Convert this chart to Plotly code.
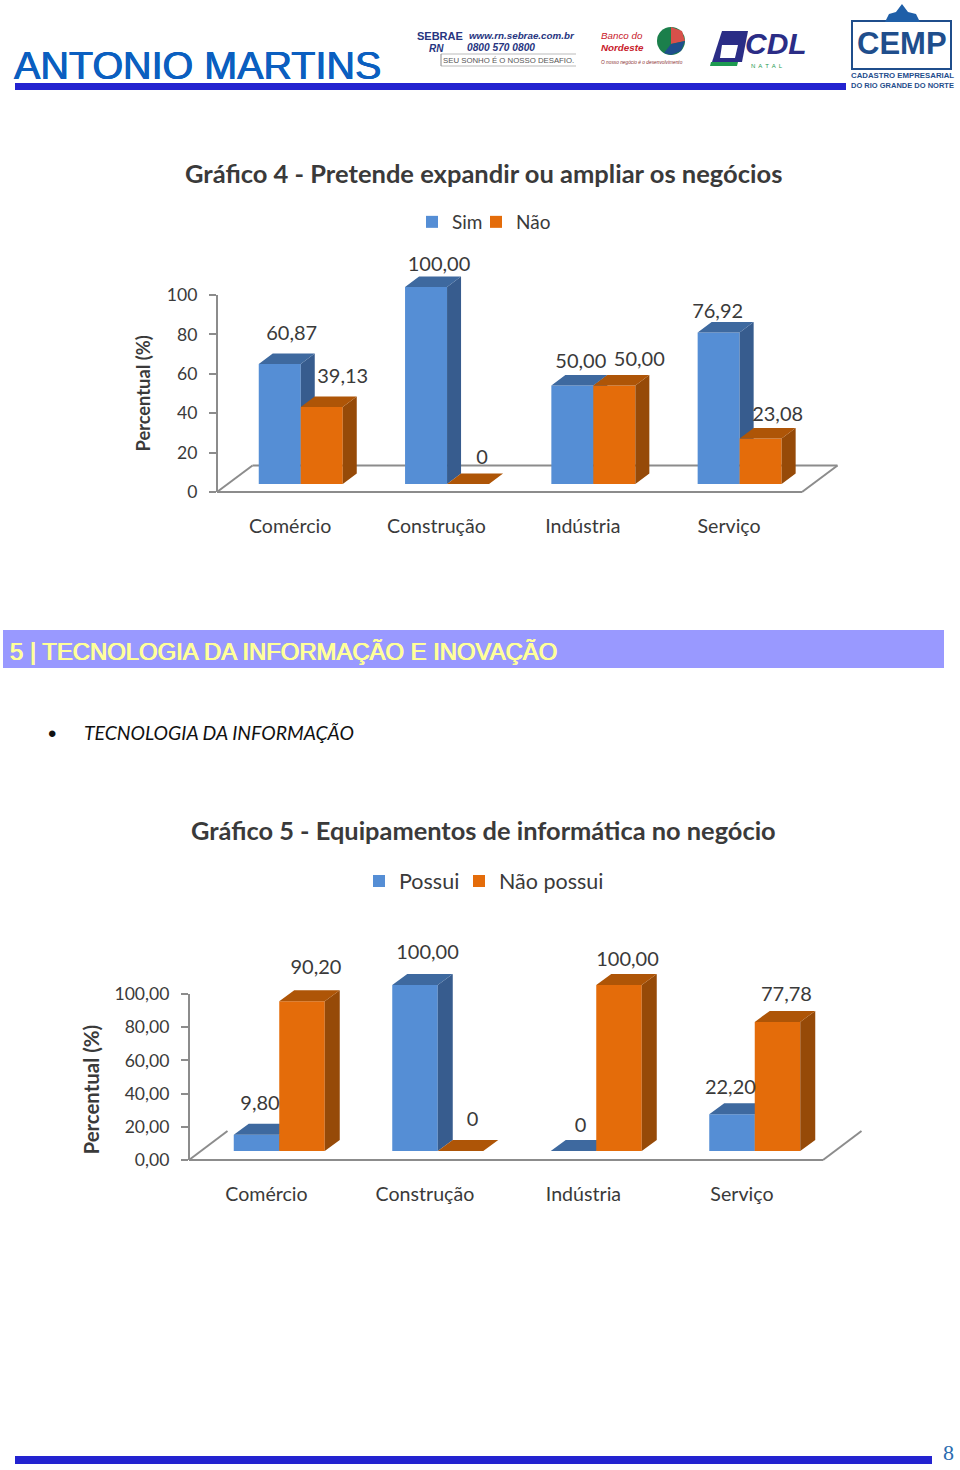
import plotly.graph_objects as go

W, H = 960, 1470

categories = ["Comércio", "Construção", "Indústria", "Serviço"]
sim = [60.87, 100.00, 50.00, 76.92]
nao = [39.13, 0, 50.00, 23.08]
possui = [9.80, 100.00, 0, 22.20]
nao_possui = [90.20, 0, 100.00, 77.78]
ticks_4 = [0, 20, 40, 60, 80, 100]
ticks_5 = [0, 20, 40, 60, 80, 100]
ticklabels_4 = ["0", "20", "40", "60", "80", "100"]
ticklabels_5 = ["0,00", "20,00", "40,00", "60,00", "80,00", "100,00"]

BLUE = ("#558ED5", "#375C8E", "#3E699F")
ORANGE = ("#E46C0A", "#964A08", "#AE5507")
GRAY = "#8C8C8C"
TXT = "#3A3A3A"
FONT = "Lato"
NAVY = "#2323D0"


def px(x):
    return x / W


def py(y):
    return 1 - y / H


def fmt(v):
    return f"{v:.2f}".replace(".", ",") if v else "0"


charts = [
    dict(ax=("", "2"), L=217, R=860, B=492, T=240, step=146.3, ypx=1.97, lift=8,
         shift=10.6, bw=42, dx=14, dy=10.5, sx=35.5, sy=26.5, fr=802, tick_shift=0,
         series=[("Sim", sim, BLUE), ("Não", nao, ORANGE)], legends=("legend", "legend2"),
         lab=[[(12, -29), (13, -21), (8.5, -23), (-1, -19)],
              [(21, -29), (14, -25), (25, -25), (17, -23)]],
         ticks=ticks_4, ticklabels=ticklabels_4, back=True),
    dict(ax=("3", "4"), L=189, R=880, B=1160, T=930, step=158.5, ypx=1.66, lift=9,
         shift=11, bw=45.5, dx=15, dy=11, sx=38.5, sy=29, fr=823, tick_shift=-1.8,
         series=[("Possui", possui, BLUE), ("Não possui", nao_possui, ORANGE)], legends=("legend3", "legend4"),
         lab=[[(3.5, -30), (12.5, -31), (7, -24), (-1.6, -25)],
              [(14, -32), (12, -30), (8.5, -24), (9, -26)]],
         ticks=ticks_5, ticklabels=ticklabels_5, back=False),
]

fig = go.Figure()
shapes, annotations = [], []


def line(x0, y0, x1, y1, color=GRAY, w=2):
    shapes.append(dict(type="line", xref="paper", yref="paper", x0=px(x0), y0=py(y0), x1=px(x1), y1=py(y1),
                       line=dict(color=color, width=w), layer="below"))


def rect(x0, y0, x1, y1, color, line_color=None, lw=0, layer="below"):
    shapes.append(dict(type="rect", xref="paper", yref="paper", x0=px(x0), y0=py(y0), x1=px(x1), y1=py(y1),
                       fillcolor=color, line=dict(color=line_color or color, width=lw), layer=layer))


def poly(points, color, layer="below"):
    p = "M" + " L".join(f"{px(a):.5f},{py(b):.5f}" for a, b in points) + " Z"
    shapes.append(dict(type="path", xref="paper", yref="paper", path=p, fillcolor=color,
                       line=dict(width=0), layer=layer))


def text(x, y, s, size, color=TXT, family=FONT, anchor="left", bold=False, italic=False, angle=0, heavy=False):
    if bold:
        s = f"<b>{s}</b>"
    if italic:
        s = f"<i>{s}</i>"
    font = dict(size=size, color=color, family=family)
    if heavy:
        font["shadow"] = f"0.6px 0 0 {color}, -0.4px 0 0 {color}"
    annotations.append(dict(xref="paper", yref="paper", x=px(x - 2 if anchor == "left" else x), y=py(y), text=s,
                            showarrow=False, xanchor=anchor, yanchor="middle", textangle=angle, font=font))


def legend_at(x, y, size):
    return dict(orientation="h", x=px(x), y=py(y), xanchor="left", yanchor="middle",
                font=dict(family=FONT, size=size, color=TXT), bgcolor="rgba(0,0,0,0)")


layout_axes = {}
for c in charts:
    base, over = c["ax"]
    step, ypx = c["step"], c["ypx"]
    xr = [-0.5, -0.5 + (c["R"] - c["L"]) / step]
    yr = [0, (c["B"] - c["T"]) / ypx]
    dom_x = [px(c["L"]), px(c["R"])]
    dom_y = [py(c["B"]), py(c["T"])]
    lift = c["lift"] / ypx
    bw = c["bw"] / step
    shift = c["shift"] / step
    ddx, ddy = c["dx"] / step, c["dy"] / ypx

    layout_axes[f"xaxis{base}"] = dict(
        domain=dom_x, range=xr, tickmode="array",
        tickvals=[i + c["tick_shift"] / step for i in range(len(categories))], ticktext=categories,
        showgrid=False, zeroline=False, showline=False, ticks="", ticklabelstandoff=20,
        tickfont=dict(family=FONT, size=19.6, color=TXT), anchor=f"y{base}")
    layout_axes[f"yaxis{base}"] = dict(
        domain=dom_y, range=yr, tickmode="array", tickvals=c["ticks"], ticktext=c["ticklabels"],
        showgrid=False, zeroline=False, showline=False, ticks="outside", ticklen=7, tickwidth=2, tickcolor=GRAY,
        ticklabelstandoff=8, tickfont=dict(family=FONT, size=17.6, color=TXT), anchor=f"x{base}")
    layout_axes[f"xaxis{over}"] = dict(domain=dom_x, range=xr, visible=False, overlaying=f"x{base}", anchor=f"y{over}")
    layout_axes[f"yaxis{over}"] = dict(domain=dom_y, range=yr, visible=False, overlaying=f"y{base}", anchor=f"x{over}")

    # floor and axis line
    fy = c["B"] - c["sy"]
    fr = c["fr"]
    line(c["L"], c["B"] - 100 * ypx, c["L"], c["B"])
    line(c["L"], c["B"], fr, c["B"])
    line(c["L"], c["B"], c["L"] + c["sx"], fy)
    line(fr, c["B"], fr + c["sx"], fy)
    if c["back"]:
        line(c["L"] + c["sx"], fy, fr + c["sx"], fy)

    for s, (name, vals, cols) in enumerate(c["series"]):
        ax = c["ax"][s]
        xa, ya = f"x{ax}", f"y{ax}"
        off = shift + (s - 0.5) * bw
        xs = [i + off for i in range(len(vals))]
        fig.add_trace(go.Bar(x=xs, y=vals, base=[lift] * len(vals), width=bw, name=name, xaxis=xa, yaxis=ya,
                             marker=dict(color=cols[0], line=dict(width=0)), legend=c["legends"][s],
                             showlegend=True, hoverinfo="skip"))
        side_x, side_y, top_x, top_y = [], [], [], []
        for x, v in zip(xs, vals):
            x0, x1 = x - bw / 2, x + bw / 2
            t = v + lift
            side_x += [x1, x1 + ddx, x1 + ddx, x1, None]
            side_y += [t, t + ddy, lift + ddy, lift, None]
            top_x += [x0, x1, x1 + ddx, x0 + ddx, None]
            top_y += [t, t, t + ddy, t + ddy, None]
        for fx, fy2, col in ((side_x, side_y, cols[1]), (top_x, top_y, cols[2])):
            fig.add_trace(go.Scatter(x=fx, y=fy2, mode="lines", fill="toself", fillcolor=col,
                                     line=dict(width=0, color=col), xaxis=xa, yaxis=ya, showlegend=False,
                                     hoverinfo="skip"))
    # value labels, on the top-most layer
    ax = c["ax"][1]
    lx, ly, lt = [], [], []
    for s, (name, vals, cols) in enumerate(c["series"]):
        off = shift + (s - 0.5) * bw
        for i, v in enumerate(vals):
            ox, oy = c["lab"][s][i]
            lx.append(i + off + ox / step)
            ly.append(v + lift - oy / ypx)
            lt.append(fmt(v))
    fig.add_trace(go.Scatter(x=lx, y=ly, text=lt, mode="text", textposition="middle center", cliponaxis=False,
                             textfont=dict(family=FONT, size=20, color=TXT), xaxis=f"x{ax}", yaxis=f"y{ax}",
                             showlegend=False, hoverinfo="skip"))

# titles
text(483.5, 173, "Gráfico 4 - Pretende expandir ou ampliar os negócios", 25.5, anchor="center", bold=True)
text(483.5, 830, "Gráfico 5 - Equipamentos de informática no negócio", 25.4, anchor="center", bold=True)
text(142, 393.5, "Percentual (%)", 18.3, anchor="center", bold=True, angle=-90)
text(90, 1089.5, "Percentual (%)", 20.4, anchor="center", bold=True, angle=-90)

# page furniture
text(14, 65, "ANTONIO MARTINS", 39.5, color="#0B5FC0", family="Liberation Sans", heavy=True)
rect(15, 83, 846, 90, NAVY)
rect(15, 1456, 932, 1464, NAVY)
text(948, 1452, "8", 22, color="#2A6CB0", family="Liberation Serif", anchor="center")
rect(3, 630, 944, 668, "#9999FF")
text(10, 651, "5 | TECNOLOGIA DA INFORMAÇÃO E INOVAÇÃO", 23.85, color="#FFFF99", family="Liberation Sans", heavy=True)
text(52, 733, "•", 24, color="#111111", anchor="center", family="Liberation Sans")
text(84, 732, "TECNOLOGIA DA INFORMAÇÃO", 19.4, color="#111111", italic=True)

# SEBRAE
text(417, 36, "SEBRAE", 11, color="#27357F", family="Liberation Sans", bold=True)
text(429, 49, "RN", 10, color="#27357F", family="Liberation Sans", bold=True, italic=True)
text(469, 36, "www.rn.sebrae.com.br", 9.8, color="#27357F", family="Liberation Sans", bold=True, italic=True)
text(467, 48, "0800 570 0800", 10.2, color="#27357F", family="Liberation Sans", bold=True, italic=True)
text(443, 60, "SEU SONHO É O NOSSO DESAFIO.", 7.8, color="#555555", family="Liberation Sans")
line(441, 54, 576, 54, color="#BBBBBB", w=1)
line(441, 66, 576, 66, color="#BBBBBB", w=1)
line(441, 54, 441, 66, color="#888888", w=1)
# Banco do Nordeste
text(601, 36, "Banco do", 9.8, color="#C8202A", family="Liberation Sans", italic=True)
text(601, 48, "Nordeste", 9.8, color="#C8202A", family="Liberation Sans", italic=True, bold=True)
text(601, 62, "O nosso negócio é o desenvolvimento", 4.8, color="#8A3030", family="Liberation Sans", italic=True)
shapes.append(dict(type="circle", xref="paper", yref="paper", x0=px(657), y0=py(55), x1=px(685), y1=py(27),
                   fillcolor="#1B7F4B", line=dict(width=0), layer="below"))
poly([(671, 27), (682, 31), (685, 41), (671, 44)], "#D8504A")
poly([(664, 53), (671, 44), (685, 41), (681, 51), (671, 55)], "#1F4E8C")
# CDL
poly([(722, 31), (748, 31), (742, 62), (712, 62)], "#2B2D86")
poly([(722, 45), (738, 45), (735, 58), (720, 58)], "#FFFFFF")
poly([(711, 62), (738, 62), (737, 66), (710, 66)], "#1E9A50")
text(745, 44, "CDL", 30, color="#2B2D86", family="Liberation Sans", bold=True, italic=True)
text(751, 66, "N  A  T  A  L", 6, color="#1E9A50", family="Liberation Sans")
# CEMP
shapes.append(dict(type="rect", xref="paper", yref="paper", x0=px(852), y0=py(69), x1=px(951), y1=py(21),
                   line=dict(color="#1F4E8C", width=2), layer="below"))
poly([(885, 22), (889, 14), (896, 12), (902, 4), (908, 12), (916, 14), (920, 22)], "#1F5FA8")
text(902, 44, "CEMP", 31, color="#1F4E8C", family="Liberation Sans", anchor="center", bold=True)
text(902, 76, "CADASTRO EMPRESARIAL", 7.8, color="#1F4E8C", family="Liberation Sans", anchor="center", bold=True)
text(902, 85.5, "DO RIO GRANDE DO NORTE", 7.5, color="#1F4E8C", family="Liberation Sans", anchor="center", bold=True)

fig.update_layout(
    width=W, height=H, margin=dict(l=0, r=0, t=0, b=0, autoexpand=False), paper_bgcolor="white",
    plot_bgcolor="rgba(0,0,0,0)", barmode="overlay", shapes=shapes, annotations=annotations,
    legend=legend_at(412, 222, 19),
    legend2=legend_at(476, 222, 19),
    legend3=legend_at(359, 881, 21.5),
    legend4=legend_at(459, 881, 21.5),
    **layout_axes)

fig.write_html("out.html", post_script="document.body.style.margin='0';document.body.style.overflow='hidden';",
               config=dict(displayModeBar=False))
